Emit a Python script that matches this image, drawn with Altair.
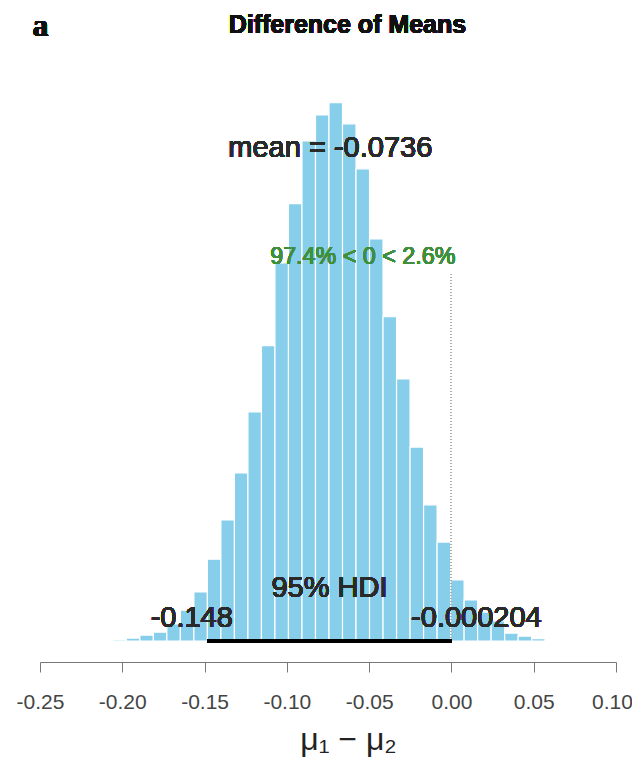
import altair as alt
import pandas as pd

# ---- data ----
bin_left = [-0.20575, -0.19754, -0.18933, -0.18112, -0.17291, -0.16470, -0.15649,
            -0.14828, -0.14007, -0.13186, -0.12365, -0.11544, -0.10723, -0.09902,
            -0.09081, -0.08260, -0.07439, -0.06618, -0.05797, -0.04976, -0.04155,
            -0.03334, -0.02513, -0.01692, -0.00871, -0.00050, 0.00771, 0.01592,
            0.02413, 0.03234, 0.04055, 0.04876, 0.05697]
density = [0.03, 0.06, 0.12, 0.18, 0.35, 0.63, 1.00, 1.67, 2.47, 3.43, 4.68,
           6.03, 7.72, 8.93, 10.21, 10.74, 10.99, 10.56, 9.64, 8.21, 6.62,
           5.35, 3.96, 2.78, 2.02, 1.25, 0.84, 0.59, 0.41, 0.16, 0.10, 0.05, 0.02]
bin_width = 0.00821
tick_values = [-0.25, -0.20, -0.15, -0.10, -0.05, 0.00, 0.05, 0.10]

mean_val = -0.0736
hdi_low = -0.148
hdi_high = -0.000204
comp_val = 0.0
pct_below = "97.4%"
pct_above = "2.6%"

df = pd.DataFrame({"left": bin_left, "density": density})
df["right"] = df["left"] + bin_width

xscale = alt.Scale(domain=[-0.25, 0.10], nice=False, zero=False)
yscale = alt.Scale(domain=[0, 11.25], nice=False, zero=True)

SANS = "Liberation Sans"

bars = alt.Chart(df).mark_bar(color="#87CEEB", stroke="white", strokeWidth=1.2).encode(
    x=alt.X("left:Q", scale=xscale,
            axis=alt.Axis(values=tick_values, title="μ₁ − μ₂", grid=False, offset=21,
                          tickSize=10, domainColor="#777777", tickColor="#777777",
                          labelExpr="replace(format(datum.value, '.2f'), '\u2212', '-')",
                          labelFont=SANS, labelFontSize=21, labelColor="#444444",
                          labelPadding=19, labelFlush=False, labelOverlap=False,
                          labelOffset=alt.condition("datum.value > 0.09", alt.value(-4), alt.value(0)),
                          titleFont=SANS, titleFontSize=32, titleFontWeight="normal",
                          titleColor="#222222", titlePadding=12, titleX=308)),
    x2="right:Q",
    y=alt.Y("density:Q", scale=yscale, axis=None),
    y2=alt.datum(0),
)

zero_line = alt.Chart(df).mark_rule(color="#aaaaaa", strokeDash=[1, 2], strokeWidth=1).encode(
    x=alt.datum(comp_val), y=alt.datum(0), y2=alt.datum(7.48)
)

hdi_line = alt.Chart(df).mark_rule(color="black", strokeWidth=4).encode(
    x=alt.datum(hdi_low), x2=alt.datum(hdi_high), y=alt.datum(0)
)

def label(text, x, y, size, color="#2a2a2a", font=SANS, weight="normal", align="center", dx=0):
    return alt.Chart(df).mark_text(text=text, fontSize=size, color=color, font=font,
                                   fontWeight=weight, align=align, baseline="middle", dx=dx).encode(
        x=alt.datum(x), y=alt.datum(y))

t_mean = label(f"mean = {mean_val}", mean_val, 10.07, 29)
t_comp = label(f"{pct_below} < {comp_val:g} < {pct_above}", comp_val, 7.84, 23.3,
               color="#3f8f3f", align="right", dx=4)
t_hdi = label("95% HDI", (hdi_low + hdi_high) / 2, 1.08, 29)
t_low = label(f"{hdi_low}", hdi_low, 0.47, 29, align="right", dx=25)
t_high = label(f"{hdi_high}", hdi_high, 0.47, 29, align="left", dx=-40)
t_title = label("Difference of Means", -0.0632, 12.58, 25, color="#111111", weight="bold")
t_a = label("a", -0.2497, 12.56, 32, color="#111111", font="Liberation Serif", weight="bold")

chart = alt.layer(bars, zero_line, hdi_line, t_mean, t_comp, t_hdi, t_low, t_high,
                  t_title, t_a).properties(
    width=576, height=551,
    autosize=alt.AutoSizeParams(type="none"),
    padding={"left": 32, "top": 82, "right": 16, "bottom": 120},
).configure_view(stroke=None)

chart.save("out.html", embed_options={"renderer": "svg", "actions": False})
